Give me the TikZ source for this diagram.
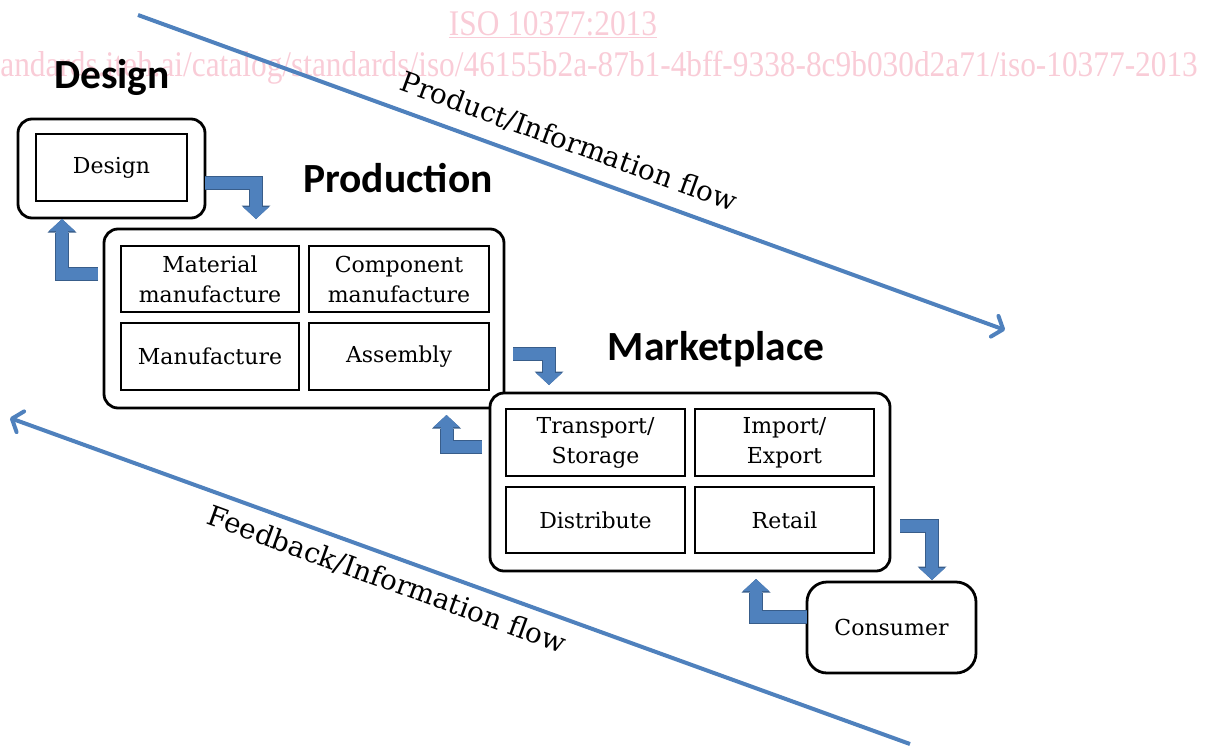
\documentclass[tikz,border=0pt]{standalone}
\usepackage{fontspec}
\setmainfont{DejaVu Serif}
\newfontfamily\headfont{Carlito}
\newfontfamily\markfont{Liberation Serif}
\usetikzlibrary{arrows.meta}

\definecolor{lineblue}{RGB}{79,129,189}
\definecolor{arrowfill}{RGB}{79,129,189}
\definecolor{arrowedge}{RGB}{56,93,138}
\definecolor{markpink}{RGB}{249,204,215}

\tikzset{
  outerbox/.style={draw, fill=white, line width=2.8pt, rounded corners=14pt, inner sep=0pt, outer sep=0pt},
  cellbox/.style={draw, line width=2.6pt, inner sep=0pt, outer sep=0pt, align=center, font=\fontsize{22}{30}\selectfont},
  heading/.style={font=\headfont\bfseries\fontsize{41.5}{44}\selectfont, inner sep=0pt},
  watermark/.style={font=\markfont\fontsize{31.35}{32}\selectfont, text=markpink, inner sep=0pt},
  flowline/.style={draw=lineblue, line width=4pt, -{Straight Barb[length=9pt,width=22pt,round]}},
  flowlabel/.style={font=\fontsize{27.8}{30}\selectfont, rotate=-20, inner sep=0pt},
  turnarrow/.style={line width=12pt, draw=arrowfill, -{Triangle[width=26pt,length=12pt,line width=0pt]},
    preaction={draw=arrowedge, line width=14pt, -{Triangle[width=29pt,length=13.5pt,line width=0pt]}}}
}

\begin{document}
\begin{tikzpicture}[x=1pt,y=-1pt]
\useasboundingbox (0,0) rectangle (1206,747);
\clip (0,0) rectangle (1206,747);

% watermark
\node[watermark, anchor=base] (isotitle) at (553,35) {\scalebox{1}[1.15]{\underline{ISO 10377:2013}}};
\node[watermark, anchor=base east] (isourl) at (1198,76) {\scalebox{1}[1.15]{standards.iteh.ai/catalog/standards/iso/46155b2a-87b1-4bff-9338-8c9b030d2a71/iso-10377-2013}};

% flow lines
\coordinate (prodstart) at (138,15);
\coordinate (prodend) at (1005,330);
\coordinate (feedstart) at (910,744);
\coordinate (feedend) at (10,418);
\draw[flowline] (prodstart) -- (prodend);
\draw[flowline] (feedstart) -- (feedend);
\node[flowlabel] (prodlabel) at (569,142) {Product/Information flow};
\node[flowlabel] (feedlabel) at (387,580) {Feedback/Information flow};

\node[heading] (designhead) at (112,77) {Design};
\node[heading] (prodhead) at (398,178) {Production};
\node[heading] (markethead) at (716,349) {Marketplace};

% design
\node[outerbox, minimum width=187pt, minimum height=99pt] (designbox) at (111.5,168.5) {};
\node[cellbox, minimum width=151pt, minimum height=67pt] (designcell) at (111.5,167.5) {Design};

% production
\node[outerbox, minimum width=400pt, minimum height=179pt] (prodbox) at (304,318.5) {};
\node[cellbox, minimum width=178pt, minimum height=66pt] (material) at (210,279) {Material\\manufacture};
\node[cellbox, minimum width=180pt, minimum height=66pt] (component) at (399,279) {Component\\manufacture};
\node[cellbox, minimum width=178pt, minimum height=67pt] (manufacture) at (210,356.5) {Manufacture};
\node[cellbox, minimum width=180pt, minimum height=67pt] (assembly) at (399,356.5) {Assembly};

% marketplace (covers the corner of the production box)
\node[outerbox, minimum width=400pt, minimum height=178pt] (marketbox) at (690,482) {};
\node[cellbox, minimum width=179pt, minimum height=67pt] (transport) at (595.5,442.5) {Transport/\\Storage};
\node[cellbox, minimum width=179pt, minimum height=67pt] (import) at (784.5,442.5) {Import/\\Export};
\node[cellbox, minimum width=179pt, minimum height=66pt] (distribute) at (595.5,520) {Distribute};
\node[cellbox, minimum width=179pt, minimum height=66pt] (retail) at (784.5,520) {Retail};

\node[outerbox, rounded corners=20pt, minimum width=169pt, minimum height=91pt, font=\fontsize{22}{30}\selectfont] (consumer) at (891.5,627.5) {Consumer};

% turn arrows
\coordinate (tipA) at (256,219);
\coordinate (tipB) at (62,219);
\coordinate (tipC) at (549,385);
\coordinate (tipD) at (446.5,415);
\coordinate (tipE) at (932,580);
\coordinate (tipF) at (756,579);
\draw[turnarrow] ([yshift=-14.5pt]designbox.east) -| (tipA);
\draw[turnarrow] ([xshift=-6pt,yshift=44.5pt]prodbox.west) -| (tipB);
\draw[turnarrow] ([xshift=9pt,yshift=-35.5pt]prodbox.east) -| (tipC);
\draw[turnarrow] ([xshift=-8pt,yshift=35.5pt]marketbox.west) -| (tipD);
\draw[turnarrow] ([xshift=10pt,yshift=-44pt]marketbox.east) -| (tipE);
\draw[turnarrow] ([yshift=10.5pt]consumer.west) -| (tipF);
\end{tikzpicture}
\end{document}
